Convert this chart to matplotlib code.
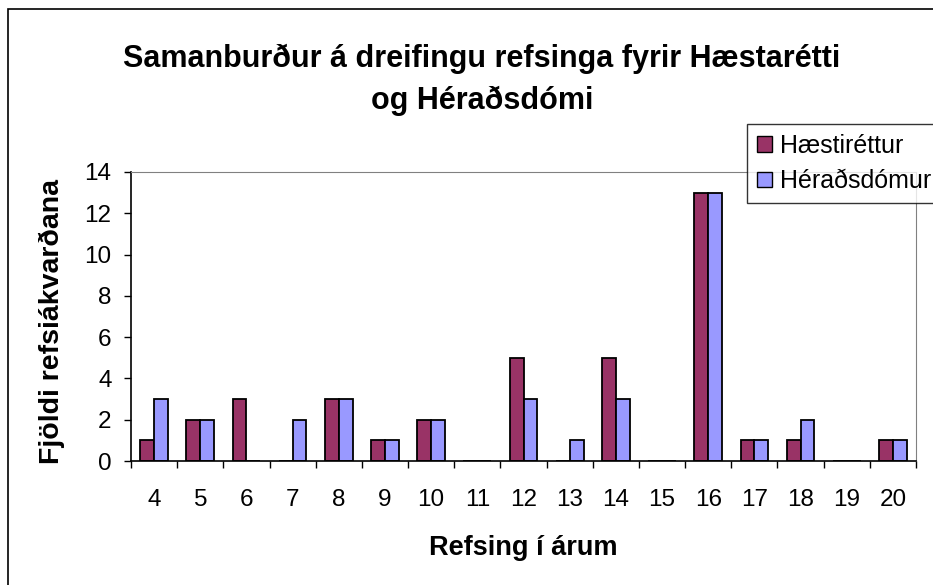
import matplotlib.pyplot as plt
import matplotlib.patches as mpatches
import numpy as np

plt.rcParams['font.family'] = ['Liberation Sans', 'DejaVu Sans']

# Data
years = ['4', '5', '6', '7', '8', '9', '10', '11', '12', '13', '14', '15', '16', '17', '18', '19', '20']
haestirettur = [1, 2, 3, 0, 3, 1, 2, 0, 5, 0, 5, 0, 13, 1, 1, 0, 1]
heradsdomur = [3, 2, 0, 2, 3, 1, 2, 0, 3, 1, 3, 0, 13, 1, 2, 0, 1]

fig = plt.figure(figsize=(9.33, 5.85), dpi=100)
ax = fig.add_axes([131 / 933, 1 - 461 / 585, 785 / 933, 289 / 585])

x = np.arange(len(years))
w = 0.30
ax.bar(x - w / 2, haestirettur, w, color='#993366', edgecolor='black', linewidth=1.3, label='Hæstiréttur')
ax.bar(x + w / 2, heradsdomur, w, color='#9999FF', edgecolor='black', linewidth=1.3, label='Héraðsdómur')

ax.set_xlim(-0.5, len(years) - 0.5)
ax.set_ylim(0, 14)
ax.set_yticks(range(0, 15, 2))
ax.set_xticks(x)
ax.set_xticklabels(years, fontsize=17.5)
ax.tick_params(axis='x', length=0, pad=20)
ax.set_xticks(np.arange(-0.5, len(years), 1), minor=True)
ax.tick_params(axis='x', which='minor', length=5, width=1, direction='out')
ax.tick_params(axis='y', labelsize=17.5, length=5, width=1, direction='out', pad=9)

for s in ['top', 'right']:
    ax.spines[s].set_color('#808080')
ax.spines['left'].set_linewidth(1.2)
ax.spines['bottom'].set_linewidth(1.2)

ax.set_xlabel('Refsing í árum', fontsize=19.5, fontweight='bold', va='center')
ax.xaxis.set_label_coords(0.5, (461 - 548) / 289)
ax.set_ylabel('Fjöldi refsiákvarðana', fontsize=20.5, fontweight='bold', va='center')
ax.yaxis.set_label_coords((52 - 131) / 785, 0.484)

fig.text(482 / 933, 1 - 80 / 585, 'Samanburður á dreifingu refsinga fyrir Hæstarétti\nog Héraðsdómi',
         ha='center', va='center', fontsize=22, fontweight='bold', linespacing=1.5)

handles = [mpatches.Patch(facecolor='#993366', edgecolor='black'),
           mpatches.Patch(facecolor='#9999FF', edgecolor='black')]
leg = fig.legend(handles, ['Hæstiréttur', 'Héraðsdómur'], loc='upper left',
                 bbox_to_anchor=(747 / 933, 1 - 124 / 585), fontsize=18,
                 frameon=True, fancybox=False, edgecolor='black', handlelength=0.6,
                 handleheight=0.6, handletextpad=0.3, borderpad=0.4, labelspacing=0.45,
                 borderaxespad=0)
leg.get_frame().set_linewidth(1)

# chart border: only left and top edges fall inside the image
fig.patches.append(mpatches.Rectangle((8 / 933, -0.05), 1.1, 1 - 9 / 585 + 0.05, transform=fig.transFigure,
                                      fill=False, edgecolor='black', linewidth=1.2))

fig.savefig('out.png', dpi=100)
